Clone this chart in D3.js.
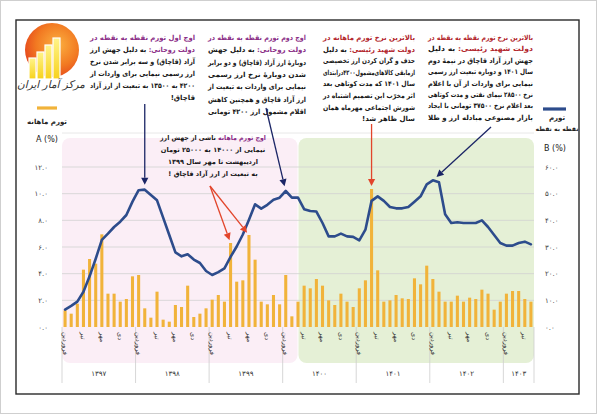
<!DOCTYPE html>
<html><head><meta charset="utf-8">
<script src="https://cdn.jsdelivr.net/npm/d3@7"></script>
<style>
body{margin:0;background:#fff;}
svg{display:block;font-family:"DejaVu Sans",sans-serif;}
</style></head><body>
<svg id="c" width="600" height="417"></svg>
<script>
// ---------------- data ----------------
const years = [1397, 1398, 1399, 1400, 1401, 1402, 1403];
const monthsPerYear = [12, 12, 12, 12, 12, 12, 5];
const monthTickNames = {1: "فروردین", 4: "تیر", 7: "مهر", 10: "دی"};
// monthly inflation (A %, bars)
const monthlyA = [
  1.25, 1.0, 1.75, 4.3, 5.1, 4.75, 6.95, 2.5, 2.5, 1.9, 2.1, 3.8,
  3.9, 1.4, 0.7, 2.65, 0.55, 0.4, 1.65, 1.5, 3.1, 0.75, 1.0, 1.4,
  2.05, 2.4, 1.9, 6.3, 3.4, 3.5, 6.9, 5.05, 1.9, 1.7, 2.4, 1.7,
  3.9, 0.8, 1.9, 3.1, 2.9, 3.6, 3.1, 2.0, 1.65, 2.5, 1.9, 1.5,
  2.9, 3.5, 10.35, 4.25, 1.9, 2.0, 2.4, 2.15, 2.1, 3.65, 3.2, 4.6,
  3.6, 2.65, 1.9, 1.9, 2.35, 1.9, 2.2, 2.1, 2.8, 2.5, 1.3, 1.9,
  2.5, 2.7, 2.7, 2.1, 1.9
];
// point-to-point inflation (B %, line)
const yoyB = [
  6.5, 7.9, 9.5, 13.2, 19, 25.6, 32.7, 35, 37.5, 39.5, 42, 47,
  51.3, 51.5, 49.5, 47.5, 41, 34.5, 28, 26.5, 27.3, 25.3, 24, 21,
  19.5, 20.6, 22, 26.3, 30.2, 34.7, 40.2, 46, 44.4, 45.8, 47.7, 48.5,
  51, 48.5, 48.5, 44.2, 43.5, 43.3, 39, 34, 34, 35, 34, 33.8,
  32.5, 36.5, 47.3, 49, 47.3, 45, 44.5, 44.5, 45, 47, 49, 53.5,
  55, 54.3, 42.3, 39, 39.3, 39, 39, 39, 40, 37.5, 34.5, 31.5,
  30.5, 30.5, 31.5, 32, 31
];
const ticksA = [0, 2, 4, 6, 8, 10, 12];
const ticksB = [0, 10, 20, 30, 40, 50, 60];

// ---------------- helpers ----------------
const fa = s => String(s).replace(/\d/g, d => "۰۱۲۳۴۵۶۷۸۹"[+d]);
const svg = d3.select("#c");

const ids = [], info = [];
years.forEach((y, yi) => {
  for (let m = 1; m <= monthsPerYear[yi]; m++) { ids.push(y + "-" + m); info.push({year: y, m}); }
});

const x = d3.scaleBand().domain(ids).range([62, 534]).paddingInner(0.5).paddingOuter(0.25);
const xc = i => x(ids[i]) + x.bandwidth() / 2;
const xl = i => x(ids[i]) - (x.step() - x.bandwidth()) / 2;
const yA = d3.scaleLinear().domain([0, 12]).range([327, 167]);
const yB = d3.scaleLinear().domain([0, 60]).range([327, 167]);

const C = {bar: "#f1b33a", line: "#2d4c8c", purple: "#8a2d86", red: "#b2262c",
  navyArrow: "#1b2566", redArrow: "#e2452b", text: "#161616"};

// ---------------- frames ----------------
svg.append("rect").attr("x", 0.5).attr("y", 0.5).attr("width", 596).attr("height", 413)
  .attr("fill", "#fff").attr("stroke", "#cfcfcf");
svg.append("rect").attr("x", 16).attr("y", 20).attr("width", 563).attr("height", 374)
  .attr("fill", "#fff").attr("stroke", "#2a2a2a").attr("stroke-width", 1.4);

// ---------------- backgrounds ----------------
const splitIdx = 38;
const xStart = xl(0), xEnd = xl(ids.length - 1) + x.step(), xSplit = xc(splitIdx);
svg.append("rect").attr("x", xStart).attr("y", 138).attr("width", xSplit - xStart - 0.5)
  .attr("height", 225).attr("rx", 8).attr("fill", "#fbeef6");
svg.append("rect").attr("x", xSplit + 0.5).attr("y", 138).attr("width", xEnd - xSplit - 0.5)
  .attr("height", 225).attr("rx", 8).attr("fill", "#e5f0d6");

// grid
svg.append("line").attr("x1", xStart).attr("x2", xEnd).attr("y1", 133).attr("y2", 133)
  .attr("stroke", "#e2e2e2").attr("stroke-width", 0.8);
svg.append("g").selectAll("line").data(ticksA.filter(d => d > 0)).join("line")
  .attr("x1", xStart).attr("x2", xEnd).attr("y1", d => yA(d)).attr("y2", d => yA(d))
  .attr("stroke", "#d2d2d2").attr("stroke-width", 0.8);

// year separators
const yearStarts = [];
let acc = 0;
monthsPerYear.forEach(n => { yearStarts.push(acc); acc += n; });
svg.append("g").selectAll("line").data([...yearStarts.map(i => xl(i)), xEnd]).join("line")
  .attr("x1", d => d).attr("x2", d => d).attr("y1", 327).attr("y2", 383)
  .attr("stroke", "#cdcdcd").attr("stroke-width", 0.8);

// ---------------- bars ----------------
svg.append("g").selectAll("rect").data(monthlyA).join("rect")
  .attr("x", (d, i) => x(ids[i])).attr("width", x.bandwidth())
  .attr("y", d => yA(d)).attr("height", d => yA(0) - yA(d))
  .attr("fill", C.bar);

// ---------------- line ----------------
svg.append("path").datum(yoyB)
  .attr("d", d3.line().x((d, i) => xc(i)).y(d => yB(d)))
  .attr("fill", "none").attr("stroke", C.line).attr("stroke-width", 2.6)
  .attr("stroke-linejoin", "round").attr("stroke-linecap", "round");

// ---------------- axes ----------------
const axL = svg.append("g").attr("transform", "translate(51,0)")
  .call(d3.axisLeft(yA).tickValues(ticksA).tickSize(0).tickPadding(3)
    .tickFormat(d => fa(d3.format(".1f")(d))));
const axR = svg.append("g").attr("transform", "translate(543,0)")
  .call(d3.axisRight(yB).tickValues(ticksB).tickSize(0).tickPadding(2)
    .tickFormat(d => fa(d3.format(".1f")(d))));
[axL, axR].forEach(a => {
  a.select(".domain").remove();
  a.selectAll("text").attr("font-family", "DejaVu Sans").attr("font-size", 7).attr("fill", "#444");
});

// month labels (vertical), anchored by their middle so they hang below the axis
const mt = svg.append("g").selectAll("text")
  .data(info.map((d, i) => ({...d, i})).filter(d => monthTickNames[d.m]))
  .join("text")
  .attr("text-anchor", "middle").attr("dy", "0.35em")
  .attr("font-size", 6.6).attr("fill", "#333")
  .text(d => monthTickNames[d.m]);
mt.each(function (d) {
  const len = this.getComputedTextLength();
  d3.select(this).attr("transform", `translate(${xc(d.i)},${332 + len / 2}) rotate(90)`);
});

// year labels
svg.append("g").selectAll("text").data(years).join("text")
  .attr("x", (d, yi) => xl(yearStarts[yi]) + monthsPerYear[yi] * x.step() / 2)
  .attr("y", 376).attr("text-anchor", "middle").attr("font-size", 7).attr("fill", "#333")
  .text(d => fa(d));

// ---------------- legends / logo ----------------
svg.append("line").attr("x1", 37).attr("x2", 57).attr("y1", 108).attr("y2", 108)
  .attr("stroke", C.bar).attr("stroke-width", 3.2);
svg.append("text").attr("x", 47).attr("y", 124).attr("text-anchor", "middle")
  .attr("font-size", 7).attr("font-weight", "bold").attr("fill", "#222").text("تورم ماهانه");
svg.append("text").attr("x", 47).attr("y", 142).attr("text-anchor", "middle")
  .attr("font-size", 8).attr("fill", "#222").text("A (%)");

svg.append("line").attr("x1", 543).attr("x2", 566).attr("y1", 109).attr("y2", 109)
  .attr("stroke", C.line).attr("stroke-width", 3.2);
svg.append("text").attr("x", 557).attr("y", 120).attr("text-anchor", "middle")
  .attr("font-size", 7).attr("font-weight", "bold").attr("fill", "#222").text("تورم");
svg.append("text").attr("x", 557).attr("y", 131).attr("text-anchor", "middle")
  .attr("font-size", 6.4).attr("font-weight", "bold").attr("fill", "#222")
  .attr("textLength", 43).attr("lengthAdjust", "spacingAndGlyphs").text("نقطه به نقطه");
svg.append("text").attr("x", 555).attr("y", 151).attr("text-anchor", "middle")
  .attr("font-size", 8).attr("fill", "#222").text("B (%)");

// logo
const defs = svg.append("defs");
const rg = defs.append("radialGradient").attr("id", "lg").attr("cx", "0.6").attr("cy", "0.4").attr("r", "0.65");
rg.append("stop").attr("offset", "0").attr("stop-color", "#fbb040");
rg.append("stop").attr("offset", "0.6").attr("stop-color", "#f27a22");
rg.append("stop").attr("offset", "1").attr("stop-color", "#e5461c");
const bg = defs.append("linearGradient").attr("id", "lb").attr("x1", 0).attr("y1", 0).attr("x2", 0).attr("y2", 1);
bg.append("stop").attr("offset", "0").attr("stop-color", "#fff48a");
bg.append("stop").attr("offset", "1").attr("stop-color", "#f7d21c");
svg.append("circle").attr("cx", 52).attr("cy", 50).attr("r", 27).attr("fill", "url(#lg)");
const logoBars = [[29, 58], [37, 52], [45, 45], [53, 38]];
svg.append("g").selectAll("rect").data(logoBars).join("rect")
  .attr("x", d => d[0]).attr("y", d => d[1]).attr("width", 7).attr("height", d => 79 - d[1])
  .attr("fill", "url(#lb)").attr("stroke", "#fff").attr("stroke-width", 1.2);
svg.append("text").attr("x", 51).attr("y", 88).attr("text-anchor", "middle")
  .attr("font-size", 10.5).attr("font-style", "italic").attr("fill", "#333").text("مرکز آمار ایران");

// ---------------- annotations ----------------
function para(cfg) {
  const g = svg.append("g");
  cfg.lines.forEach((parts, i) => {
    const last = i === cfg.lines.length - 1;
    const align = last ? (cfg.last || "right") : (cfg.align || "justify");
    const t = g.append("text").attr("y", cfg.y0 + i * cfg.lh)
      .attr("font-size", cfg.fs).attr("direction", "rtl");
    if (align === "center") t.attr("x", cfg.right - cfg.width / 2).attr("text-anchor", "middle");
    else t.attr("x", cfg.right).attr("text-anchor", "start");
    parts.forEach(p => {
      const s = typeof p === "string" ? {t: p} : p;
      t.append("tspan").text(s.t).attr("fill", s.c || C.text)
        .attr("font-weight", s.b || cfg.bold ? "bold" : "normal");
    });
    const len = t.node().getComputedTextLength();
    if (align === "justify" || len > cfg.width)
      t.attr("textLength", cfg.width).attr("lengthAdjust", "spacingAndGlyphs");
  });
}

para({right: 195, width: 105, y0: 40, lh: 12, fs: 7, bold: 1, lines: [
  [{t: "اوج اول تورم نقطه به نقطه در", c: C.purple}],
  [{t: "دولت روحانی:", c: C.purple}, "   به دلیل جهش ارز"],
  ["آزاد (قاچاق) و سه برابر شدن نرخ"],
  ["ارز رسمی نیمایی برای واردات از"],
  ["۴۲۰۰ به ۱۳۵۰۰ به تبعیت از ارز آزاد"],
  ["قاچاق!"]
]});
para({right: 306, width: 98, y0: 40, lh: 12.3, fs: 7, bold: 1, last: "center", lines: [
  [{t: "اوج دوم تورم نقطه به نقطه در", c: C.purple}],
  [{t: "دولت روحانی:", c: C.purple}, "   به دلیل جهش"],
  ["دوبارهٔ ارز آزاد (قاچاق) و دو برابر"],
  ["شدن دوبارهٔ نرخ ارز رسمی"],
  ["نیمایی برای واردات به تبعیت از"],
  ["ارز آزاد قاچاق و همچنین کاهش"],
  ["اقلام مشمول ارز ۴۲۰۰ تومانی"]
]});
para({right: 415, width: 92, y0: 40, lh: 11.6, fs: 7, bold: 1, lines: [
  [{t: "بالاترین نرخ تورم ماهانه در", c: C.red}],
  [{t: "دولت شهید رئیسی:", c: C.red}, "   به دلیل"],
  ["حذف و گران کردن ارز تخصیصی"],
  ["ازمابقی کالاهای‌مشمول۴۲۰۰درابتدای"],
  ["سال ۱۴۰۱ که مدت کوتاهی بعد"],
  ["اثر مخرّب این تصمیم اشتباه در"],
  ["شورش اجتماعی مهرماه همان"],
  ["سال ظاهر شد!"]
]});
para({right: 533, width: 105, y0: 40, lh: 11.4, fs: 7, bold: 1, last: "justify", lines: [
  [{t: "بالاترین نرخ تورم نقطه به نقطه در", c: C.red}],
  [{t: "دولت شهید رئیسی:", c: C.red}, "   به دلیل"],
  ["جهش ارز آزاد قاچاق در نیمهٔ دوم"],
  ["سال ۱۴۰۱ و دوباره تبعیت ارز رسمی"],
  ["نیمایی برای واردات از آن با اعلام"],
  ["نرخ ۲۸۵۰۰ نیمای نفتی و مدت کوتاهی"],
  ["بعد اعلام نرخ ۳۷۵۰۰ تومانی با ایجاد"],
  ["بازار مصنوعی مبادله ارز و طلا"]
]});
para({right: 266, width: 106, y0: 140, lh: 12, fs: 6.6, bold: 1, align: "center", last: "center", lines: [
  [{t: "اوج تورم ماهانه", c: C.purple}, " ناشی از جهش ارز"],
  ["نیمایی از ۱۴۰۰۰ به ۲۵۰۰۰ تومان"],
  ["اردیبهشت تا مهر سال ۱۳۹۹"],
  ["به تبعیت از ارز آزاد قاچاق !"]
]});

// ---------------- arrows ----------------
function arrow(x0, y0, x1, y1, color) {
  const a = Math.atan2(y1 - y0, x1 - x0), L = 7, W = 3.6;
  const bx = x1 - L * Math.cos(a), by = y1 - L * Math.sin(a);
  svg.append("line").attr("x1", x0).attr("y1", y0).attr("x2", bx).attr("y2", by)
    .attr("stroke", color).attr("stroke-width", 1.3);
  svg.append("path").attr("d", `M${x1},${y1}L${bx + W * Math.sin(a)},${by - W * Math.cos(a)}L${bx - W * Math.sin(a)},${by + W * Math.cos(a)}Z`)
    .attr("fill", color);
}
function arrowTo(x0, y0, tx, ty, gap, color) {
  const a = Math.atan2(ty - y0, tx - x0);
  arrow(x0, y0, tx - gap * Math.cos(a), ty - gap * Math.sin(a), color);
}
arrowTo(xc(13), 104, xc(13), yB(yoyB[13]), 5, C.navyArrow);
arrowTo(266, 108, xc(36), yB(yoyB[36]), 5, C.navyArrow);
arrowTo(xc(50), 124, xc(50), yA(monthlyA[50]), 3, C.redArrow);
arrowTo(491, 127, xc(60), yB(yoyB[60]), 5, C.navyArrow);
arrowTo(210, 186, xc(27), yA(monthlyA[27]), 3, C.redArrow);
arrowTo(210, 186, xc(30), yA(monthlyA[30]), 3, C.redArrow);
</script>
</body></html>
